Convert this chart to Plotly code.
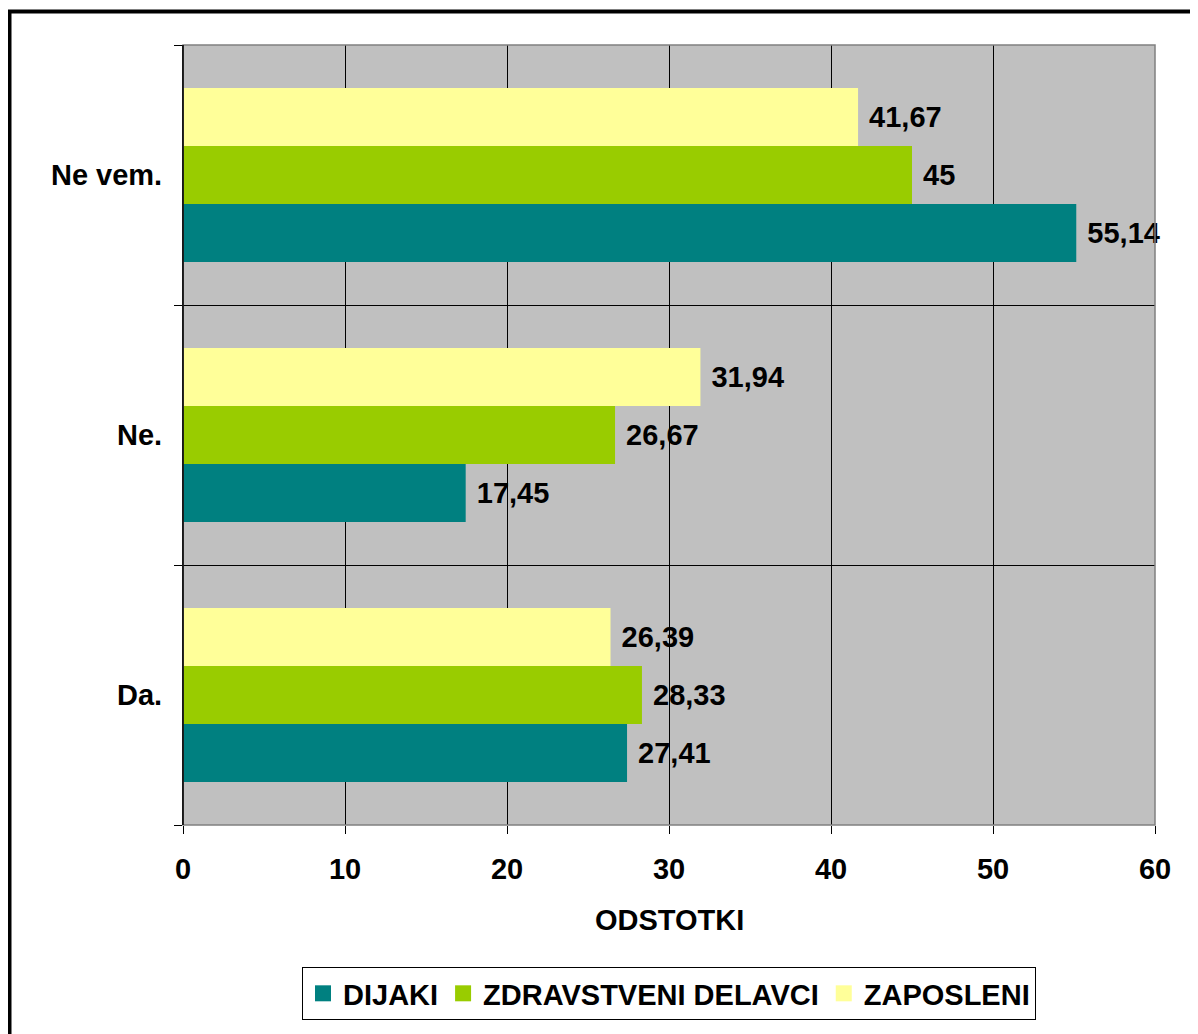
import plotly.graph_objects as go

categories = ["Da.", "Ne.", "Ne vem."]
dijaki = [27.41, 17.45, 55.14]
zdravstveni = [28.33, 26.67, 45]
zaposleni = [26.39, 31.94, 41.67]
x_ticks = [0, 10, 20, 30, 40, 50, 60]
series = [("DIJAKI", dijaki, "#008080"),
          ("ZDRAVSTVENI DELAVCI", zdravstveni, "#99CC00"),
          ("ZAPOSLENI", zaposleni, "#FFFF99")]

def fmt(v):
    s = ("%.2f" % v).rstrip("0").rstrip(".")
    return " " + s.replace(".", ",")

FS = 29
FAM = "Liberation Sans, Arial, sans-serif"

fig = go.Figure()
for name, vals, col in series:
    fig.add_trace(go.Bar(
        y=categories, x=vals, name=name, orientation="h", showlegend=False,
        marker=dict(color=col, line=dict(width=0)),
        text=[fmt(v) for v in vals], textposition="outside",
        textfont=dict(family=FAM, size=FS, color="black", weight="bold"),
        constraintext="none", cliponaxis=False,
    ))
for name, vals, col in series:
    fig.add_trace(go.Scatter(
        x=[None], y=[None], mode="markers", name=name,
        marker=dict(symbol="square", size=19, color=col, line=dict(width=0)),
    ))

fig.update_layout(
    width=1190, height=1026,
    barmode="group", bargap=0.33, bargroupgap=0,
    plot_bgcolor="#C0C0C0", paper_bgcolor="white",
    margin=dict(l=175, r=43, t=37, b=209),
    font=dict(family=FAM, size=FS, color="black", weight="bold"),
    showlegend=True,
    legend=dict(orientation="h", x=0.5, xanchor="center", y=-0.182, yanchor="top",
                bordercolor="black", borderwidth=1, font=dict(size=FS),
                traceorder="normal", itemsizing="trace", itemwidth=30,
                tracegroupgap=0),
    xaxis=dict(range=[0, 60], tickvals=x_ticks, ticktext=[str(t) for t in x_ticks],
               showgrid=True, gridcolor="black", gridwidth=1,
               ticks="outside", ticklen=8, tickcolor="black",
               showline=False, zeroline=False, tickfont=dict(size=FS),
               ticklabelstandoff=10),
    yaxis=dict(type="category", categoryorder="array", categoryarray=categories,
               tickson="boundaries", showgrid=True, gridcolor="black", gridwidth=1,
               ticks="outside", ticklen=8, tickcolor="black",
               showline=True, linecolor="black", linewidth=1,
               tickfont=dict(size=FS), ticklabelstandoff=14),
    annotations=[dict(text="ODSTOTKI", x=0.5, xref="paper", y=-0.122, yref="paper",
                      xanchor="center", yanchor="middle", showarrow=False,
                      font=dict(size=FS))],
    shapes=[
        dict(type="rect", xref="paper", yref="paper", x0=0, x1=1, y0=0, y1=1,
             line=dict(color="#808080", width=1.5), layer="above"),
        dict(type="line", xref="paper", yref="paper", x0=0, x1=0, y0=0, y1=1,
             line=dict(color="black", width=1.5), layer="above"),
        dict(type="rect", xref="paper", yref="paper", x0=-0.1785, x1=1.06, y0=-0.3, y1=1.043,
             line=dict(color="black", width=4), layer="above"),
    ],
)
fig.write_html("out.html")
